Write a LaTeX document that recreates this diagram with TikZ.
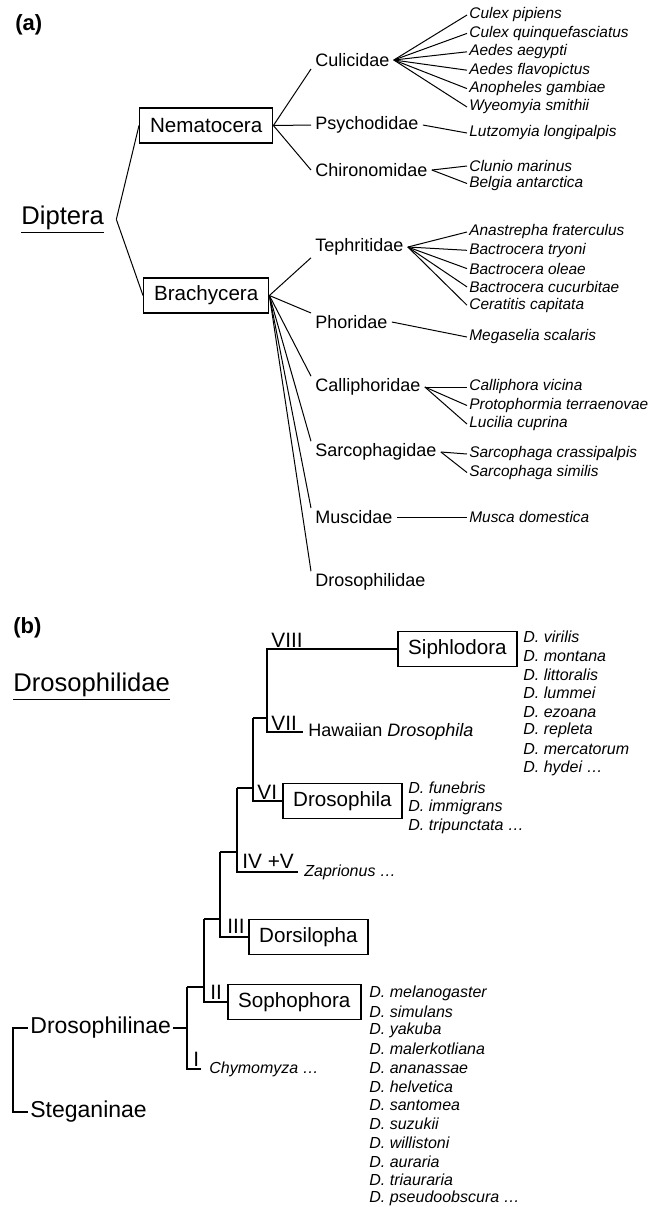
\documentclass[tikz,border=0pt]{standalone}
\usepackage{fontspec}
\setmainfont{Liberation Sans}

\begin{document}
\begin{tikzpicture}[x=0.5pt, y=-0.5pt,
  every node/.style={inner sep=1pt},
  panel/.style={font=\fontsize{11}{13}\selectfont\bfseries, inner sep=0pt, anchor=west},
  head/.style={font=\fontsize{12.8}{15}\selectfont, anchor=base west},
  box/.style={draw, line width=0.7pt, anchor=west, inner xsep=5.2pt,
              minimum height=17.5pt, font=\fontsize{10.3}{12}\selectfont},
  fam/.style={anchor=west, inner xsep=2pt, font=\fontsize{9}{11}\selectfont},
  spc/.style={anchor=west, font=\fontsize{7.7}{9}\selectfont\itshape},
  spb/.style={anchor=west, font=\fontsize{8}{10}\selectfont\itshape},
  num/.style={anchor=base west, inner sep=0pt, font=\fontsize{10.4}{12}\selectfont},
  subfam/.style={anchor=west, font=\fontsize{11.5}{13}\selectfont},
  lnk/.style={line width=0.5pt},
  clade/.style={line width=1pt}
]
\useasboundingbox (0,0) rectangle (651,1207);

% (a) Diptera
\node[panel] (pa) at (15,25) {(a)};
\node[head, inner xsep=6pt] (dip) at (9,224) {\underline{Diptera}};
\node[box] (nem) at (139,125.5) {Nematocera};
\node[box] (bra) at (143,295.5) {Brachycera};
\draw[lnk] (dip.east) -- (nem.west);
\draw[lnk] (dip.east) -- (bra.west);

\node[fam] (cul) at (311,60) {Culicidae};
\node[fam] (psy) at (311,125) {Psychodidae};
\node[fam] (chi) at (311,170) {Chironomidae};
\draw[lnk] (nem.east) -- (cul.south west);
\draw[lnk] (nem.east) -- (psy.west);
\draw[lnk] (nem.east) -- (chi.west);

\node[fam] (tep) at (311,247) {Tephritidae};
\node[fam] (pho) at (311,322) {Phoridae};
\node[fam] (cal) at (311,387) {Calliphoridae};
\node[fam] (sar) at (311,452) {Sarcophagidae};
\node[fam] (mus) at (311,517) {Muscidae};
\node[fam] (dro) at (311,582) {Drosophilidae};
\draw[lnk] (bra.east) -- (tep.south west);
\foreach \f in {pho,cal,sar,mus,dro}
  \draw[lnk] (bra.east) -- (\f.north west);

\foreach \sp [count=\i] in {Culex pipiens, Culex quinquefasciatus, Aedes aegypti,
    Aedes flavopictus, Anopheles gambiae, Wyeomyia smithii} {
  \node[spc] (cul\i) at (467,{15+18.4*(\i-1)}) {\sp};
  \draw[lnk] (cul.east) -- (cul\i.west);
}
\node[spc] (psy1) at (467,133) {Lutzomyia longipalpis};
\draw[lnk] (psy.east) -- (psy1.west);
\foreach \sp [count=\i] in {Clunio marinus, Belgia antarctica} {
  \node[spc] (chi\i) at (467,{166+17.5*(\i-1)}) {\sp};
  \draw[lnk] (chi.east) -- (chi\i.west);
}
\foreach \sp [count=\i] in {Anastrepha fraterculus, Bactrocera tryoni, Bactrocera oleae,
    Bactrocera cucurbitae, Ceratitis capitata} {
  \node[spc] (tep\i) at (467,{232+18.3*(\i-1)}) {\sp};
  \draw[lnk] (tep.east) -- (tep\i.west);
}
\node[spc] (pho1) at (467,337) {Megaselia scalaris};
\draw[lnk] (pho.east) -- (pho1.west);
\foreach \sp [count=\i] in {Calliphora vicina, Protophormia terraenovae, Lucilia cuprina} {
  \node[spc] (cal\i) at (467,{387+18.5*(\i-1)}) {\sp};
  \draw[lnk] (cal.east) -- (cal\i.west);
}
\foreach \sp [count=\i] in {Sarcophaga crassipalpis, Sarcophaga similis} {
  \node[spc] (sar\i) at (467,{454+18.5*(\i-1)}) {\sp};
  \draw[lnk] (sar.east) -- (sar\i.west);
}
\node[spc] (mus1) at (467,517) {Musca domestica};
\draw[lnk] (mus.east) -- (mus1.west);

% (b) Drosophilidae
\node[panel] (pb) at (13,628) {(b)};
\node[head, inner xsep=0pt] (drh) at (13,691) {\underline{Drosophilidae}};

\node[box, line width=0.8pt] (sip) at (397,649) {Siphlodora};
\node[fam, inner xsep=2.5pt] (haw) at (303,732) {Hawaiian \textit{Drosophila}};
\node[box, line width=0.8pt] (dsp) at (282,801) {Drosophila};
\node[spb, inner xsep=3pt] (zap) at (298,872) {Zaprionus \ldots};
\node[box, line width=0.8pt] (dor) at (248,937) {Dorsilopha};
\node[box, line width=0.8pt] (sop) at (227,1002) {Sophophora};
\node[spb, inner xsep=4pt] (chy) at (201,1069) {Chymomyza \ldots};
\node[subfam] (dri) at (28,1028) {Drosophilinae};
\node[subfam] (ste) at (28,1112) {Steganinae};

\node[num] (n8) at (271,647) {VIII};
\node[num] (n7) at (271,730) {VII};
\node[num] (n6) at (257,799) {VI};
\node[num] (n45) at (242,868) {IV +V};
\node[num] (n3) at (227,933) {III};
\node[num] (n2) at (210,999) {II};
\node[num] (n1) at (193,1066) {I};

\coordinate (c7) at (267,732);
\coordinate (s7) at (253,718);
\coordinate (s6) at (237,788);
\coordinate (s45) at (220,852);
\coordinate (s3) at (204,919);
\coordinate (s2) at (187,987);
\draw[clade] (sip.west) -| (c7) -- (haw.west);
\draw[clade] (s7) -- (s7 -| c7);
\draw[clade] (s7) |- (dsp.west);
\draw[clade] (s6) -- (s6 -| s7);
\draw[clade] (s6) |- (zap.west);
\draw[clade] (s45) -- (s45 -| s6);
\draw[clade] (s45) |- (dor.west);
\draw[clade] (s3) -- (s3 -| s45);
\draw[clade] (s3) |- (sop.west);
\draw[clade] (s2) -- (s2 -| s3);
\draw[clade] (s2) |- (chy.west);
\draw[clade] (dri.east) -- (dri.east -| s2);
\draw[clade] (dri.west) -- ++(-15,0) |- (ste.west);

\foreach \sp [count=\i] in {D. virilis, D. montana, D. littoralis, D. lummei,
    D. ezoana, D. repleta, D. mercatorum, D. hydei \ldots}
  \node[spb] (sip\i) at (521,{637+18.7*(\i-1)}) {\sp};
\foreach \sp [count=\i] in {D. funebris, D. immigrans, D. tripunctata \ldots}
  \node[spb] (dsp\i) at (406,{788+19*(\i-1)}) {\sp};
\foreach \sp [count=\i] in {D. melanogaster, D. simulans, D. yakuba, D. malerkotliana,
    D. ananassae, D. helvetica, D. santomea, D. suzukii, D. willistoni,
    D. auraria, D. triauraria, D. pseudoobscura \ldots}
  \node[spb] (sop\i) at (367,{993+18.7*(\i-1)}) {\sp};
\end{tikzpicture}
\end{document}
